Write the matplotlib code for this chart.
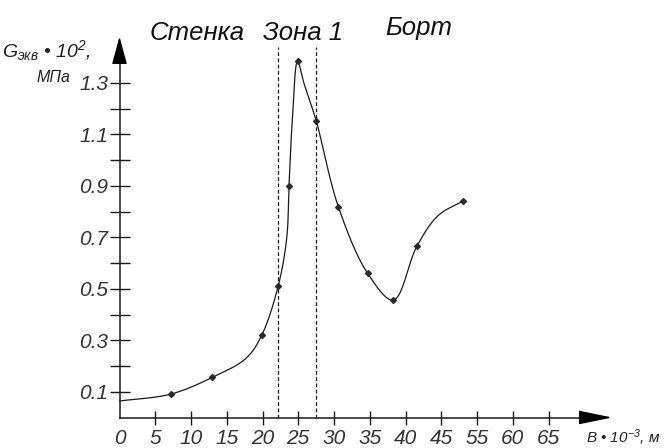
import numpy as np
import matplotlib
matplotlib.use("Agg")
import matplotlib.pyplot as plt

FONT = 'Liberation Sans'
plt.rcParams['font.family'] = [FONT, 'DejaVu Sans']
plt.rcParams['font.style'] = 'italic'
plt.rcParams['mathtext.fontset'] = 'custom'
plt.rcParams['mathtext.rm'] = FONT + ':italic'
plt.rcParams['mathtext.it'] = FONT + ':italic'
plt.rcParams['mathtext.bf'] = FONT + ':italic'

# ---- data ----
# measured (marked) points: B position along axis, G_ekv * 10^2 (MPa)
point_b = [7.2, 13.0, 19.9, 22.2, 23.7, 24.9, 27.5, 30.6, 34.7, 38.3, 41.6, 48.1]
point_g = [0.091, 0.156, 0.320, 0.511, 0.898, 1.384, 1.153, 0.819, 0.560, 0.456, 0.666, 0.841]
# unmarked points (start and bends)
shape_b = [0.0, 17.7, 23.4, 24.2, 25.8, 44.6]
shape_g = [0.064, 0.230, 0.700, 1.168, 1.298, 0.785]
# zone boundaries (dashed lines)
zone_bounds = [22.2, 27.5]
zone_names = ['Стенка', 'Зона 1', 'Борт']
zone_label_b = [10.8, 25.7, 41.9]
# axis ticks
x_tick_pos = [0, 5, 10, 15, 20, 25, 30, 35, 40, 45, 50, 55, 60]
x_tick_labels = ['0', '5', '10', '15', '20', '25', '30', '35', '40', '45', '55', '60', '65']
y_major = [0.1, 0.3, 0.5, 0.7, 0.9, 1.1, 1.3]
y_major_labels = ['0.1', '0.3', '0.5', '0.7', '0.9', '1.1', '1.3']
y_minor = [0.2, 0.4, 0.6, 0.8, 1.0, 1.2]

# pixel scale of the reference (for smoothing in a visually uniform space)
SX, SY = 7.15, 257.5


def catmull_rom(xs, ys, n=40, alpha=0.5):
    P = np.column_stack([np.asarray(xs) * SX, np.asarray(ys) * SY])
    P = np.vstack([2 * P[0] - P[1], P, 2 * P[-1] - P[-2]])
    out = []
    for i in range(1, len(P) - 2):
        p0, p1, p2, p3 = P[i - 1], P[i], P[i + 1], P[i + 2]
        t0 = 0.0
        t1 = t0 + max(np.linalg.norm(p1 - p0), 1e-6) ** alpha
        t2 = t1 + max(np.linalg.norm(p2 - p1), 1e-6) ** alpha
        t3 = t2 + max(np.linalg.norm(p3 - p2), 1e-6) ** alpha
        t = np.linspace(t1, t2, n)[:, None]
        A1 = (t1 - t) / (t1 - t0) * p0 + (t - t0) / (t1 - t0) * p1
        A2 = (t2 - t) / (t2 - t1) * p1 + (t - t1) / (t2 - t1) * p2
        A3 = (t3 - t) / (t3 - t2) * p2 + (t - t2) / (t3 - t2) * p3
        B1 = (t2 - t) / (t2 - t0) * A1 + (t - t0) / (t2 - t0) * A2
        B2 = (t3 - t) / (t3 - t1) * A2 + (t - t1) / (t3 - t1) * A3
        C = (t2 - t) / (t2 - t1) * B1 + (t - t1) / (t2 - t1) * B2
        out.append(C if i == len(P) - 3 else C[:-1])
    C = np.vstack(out)
    return C[:, 0] / SX, C[:, 1] / SY


curve_b = np.array(point_b + shape_b)
curve_g = np.array(point_g + shape_g)
order = np.argsort(curve_b)
cx, cy = catmull_rom(curve_b[order], curve_g[order])

fig = plt.figure(figsize=(6.65, 4.48), dpi=100)
ax = fig.add_axes([0, 0, 1, 1])
ax.set_xlim(-119.5 / SX, (665 - 119.5) / SX)
ax.set_ylim((417.5 - 448) / SY, 417.5 / SY)

ink = '#1a1a1a'
ax.plot(cx, cy, color=ink, lw=0.9, solid_capstyle='round')
ax.plot(point_b, point_g, linestyle='none', marker='D', ms=3.0, color='#2a2a2a')

ax.vlines(zone_bounds, 0, 1.44, colors=ink, linestyles=(0, (3.0, 2.0)), lw=0.9)

# axes
for s in ['top', 'right']:
    ax.spines[s].set_visible(False)
ax.spines['left'].set_position(('data', 0))
ax.spines['bottom'].set_position(('data', 0))
ax.spines['left'].set_bounds(0, 1.40)
ax.spines['bottom'].set_bounds(0, 65.5)
for s in ['left', 'bottom']:
    ax.spines[s].set_color(ink)
    ax.spines[s].set_linewidth(1.1)

ax.annotate('', xy=(0, 1.479), xytext=(0, 1.386),
            arrowprops=dict(arrowstyle='-|>,head_length=1.73,head_width=0.47',
                            color='black', lw=1.0, shrinkA=0, shrinkB=0, mutation_scale=10))
ax.annotate('', xy=(68.9, 0), xytext=(64.8, 0),
            arrowprops=dict(arrowstyle='-|>,head_length=2.09,head_width=0.43',
                            color='black', lw=1.0, shrinkA=0, shrinkB=0, mutation_scale=10))

ax.set_xticks(x_tick_pos)
ax.set_xticklabels(x_tick_labels)
ax.set_yticks(y_major)
ax.set_yticklabels(y_major_labels)
ax.set_yticks(y_minor, minor=True)
ax.tick_params(axis='x', direction='inout', length=9.4, width=1.0, color=ink,
               labelsize=15, labelcolor='#333333', pad=3.5)
ax.tick_params(axis='y', which='both', direction='inout', length=15, width=1.0, color=ink,
               labelsize=15, labelcolor='#333333', pad=0.5)
ax.xaxis.get_major_ticks()[0].tick1line.set_visible(False)

# zone titles
zone_label_g = [1.466, 1.466, 1.485]
for name, b, g in zip(zone_names, zone_label_b, zone_label_g):
    ax.text(b, g, name, ha='center', va='baseline', fontsize=18.5, color='#111111')

# axis titles
ax.text(-16.4, 1.401, r'$G_{экв}$ • 10$^{2}$,', ha='left', va='baseline',
        fontsize=14, color='#222222')
ax.text(-9.2, 1.304, 'МПа', ha='center', va='baseline', fontsize=11.5, color='#222222')
ax.text(65.2, -0.099, r'B • 10$^{-3}$, м', ha='left', va='baseline',
        fontsize=11, color='#222222')

fig.savefig('out.png', dpi=100)
